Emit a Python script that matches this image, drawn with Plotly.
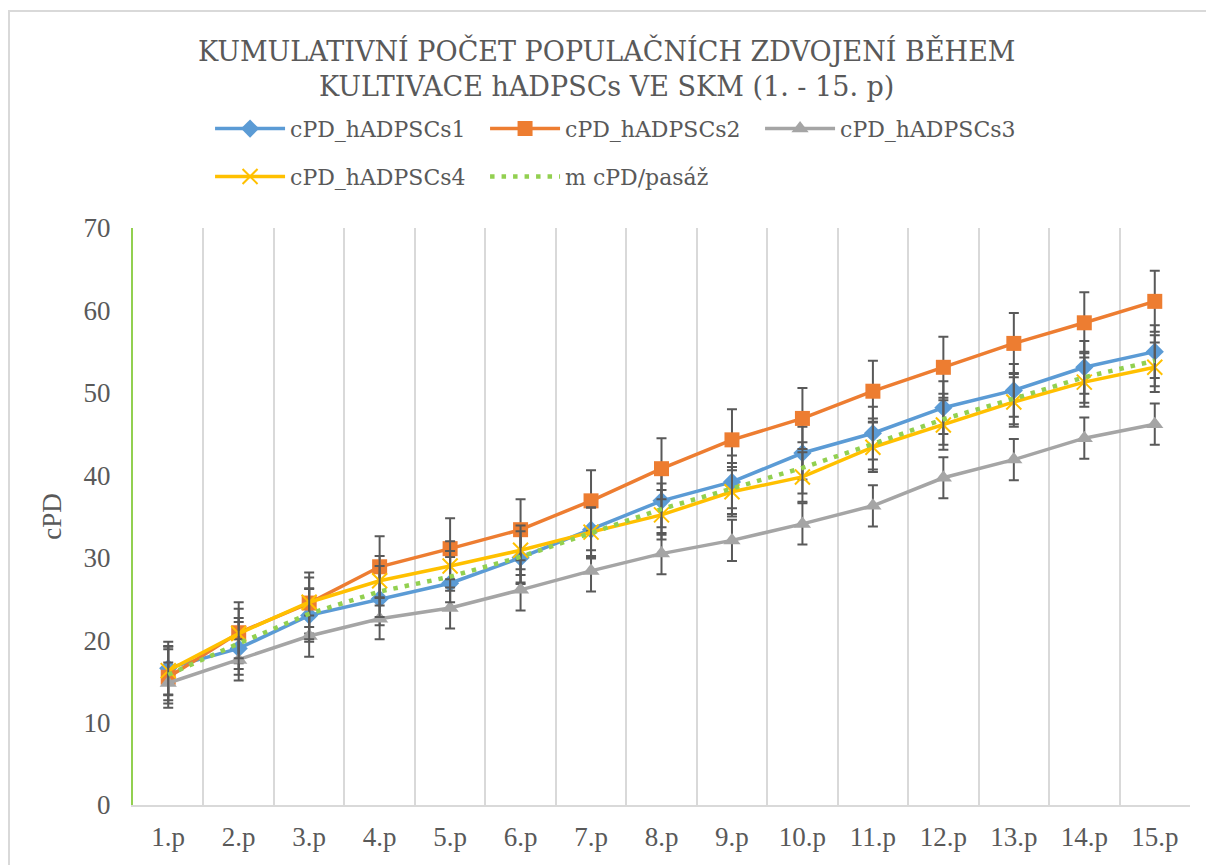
import plotly.graph_objects as go

# Passage labels (x axis categories)
passages = ["1.p", "2.p", "3.p", "4.p", "5.p", "6.p", "7.p", "8.p",
            "9.p", "10.p", "11.p", "12.p", "13.p", "14.p", "15.p"]

# Cumulative population doublings per cell line
cpd_1 = [16.6, 19.0, 23.0, 25.0, 26.9, 30.0, 33.4, 36.9, 39.2, 42.7, 45.1, 48.2, 50.3, 53.1, 55.0]
cpd_2 = [15.5, 20.9, 24.5, 28.9, 31.1, 33.4, 36.9, 40.8, 44.3, 46.9, 50.2, 53.1, 56.0, 58.5, 61.1]
cpd_3 = [14.8, 17.6, 20.5, 22.6, 23.9, 26.1, 28.4, 30.5, 32.1, 34.1, 36.3, 39.7, 41.9, 44.5, 46.2]
cpd_4 = [16.3, 20.8, 24.6, 27.2, 29.0, 30.9, 33.1, 35.2, 38.0, 39.8, 43.4, 46.1, 48.9, 51.3, 53.1]
cpd_mean = [15.8, 19.6, 23.2, 25.9, 27.7, 30.1, 33.0, 35.9, 38.4, 40.9, 43.8, 46.8, 49.3, 51.9, 53.9]

# Standard error of each series (constant error bar size)
err_1 = 3.2
err_2 = 3.7
err_3 = 2.5
err_4 = 3.0
err_mean = 3.1

names = ["cPD_hADPSCs1", "cPD_hADPSCs2", "cPD_hADPSCs3", "cPD_hADPSCs4", "m cPD/pasáž"]
title_lines = ["KUMULATIVNÍ POČET POPULAČNÍCH ZDVOJENÍ BĚHEM",
               "KULTIVACE hADPSCs VE SKM (1. - 15. p)"]
y_ticks = [0, 10, 20, 30, 40, 50, 60, 70]

FONT = "Times New Roman"
HEAD_FONT = "DejaVu Serif"
TEXT = "#595959"
GRID = "#d9d9d9"
GREEN = "#92d050"

x_pos = list(range(1, len(passages) + 1))


def err(v):
    return dict(type="constant", value=v, color="#595959", thickness=2, width=5)


fig = go.Figure()

fig.add_trace(go.Scatter(
    x=x_pos, y=cpd_1, name=names[0], mode="lines+markers",
    line=dict(color="#5b9bd5", width=3.5),
    marker=dict(symbol="diamond", size=14, color="#5b9bd5"),
    error_y=err(err_1), legend="legend"))
fig.add_trace(go.Scatter(
    x=x_pos, y=cpd_2, name=names[1], mode="lines+markers",
    line=dict(color="#ed7d31", width=3.5),
    marker=dict(symbol="square", size=15, color="#ed7d31"),
    error_y=err(err_2), legend="legend"))
fig.add_trace(go.Scatter(
    x=x_pos, y=cpd_3, name=names[2], mode="lines+markers",
    line=dict(color="#a5a5a5", width=3.5),
    marker=dict(symbol="triangle-up", size=15, color="#a5a5a5"),
    error_y=err(err_3), legend="legend"))
fig.add_trace(go.Scatter(
    x=x_pos, y=cpd_4, name=names[3], mode="lines+markers",
    line=dict(color="#ffc000", width=3.5),
    marker=dict(symbol="x-thin", size=15, color="#ffc000",
                line=dict(color="#ffc000", width=2)),
    error_y=err(err_4), legend="legend2"))
fig.add_trace(go.Scatter(
    x=x_pos, y=cpd_mean, name=names[4], mode="lines",
    line=dict(color=GREEN, width=4.5, dash="4.5px,7px"),
    error_y=err(err_mean), legend="legend2"))

legend_common = dict(
    orientation="h", xanchor="left", yanchor="middle",
    font=dict(family=HEAD_FONT, size=22, color=TEXT),
    itemwidth=70, entrywidth=190, bgcolor="rgba(0,0,0,0)",
    traceorder="normal",
)

# Two-line chart heading, drawn as centred text above the legend
title_annotations = [
    dict(text=line, x=0.4484, y=y, xref="paper", yref="paper",
         xanchor="center", yanchor="middle", showarrow=False,
         font=dict(family=HEAD_FONT, size=27, color=TEXT))
    for line, y in zip(title_lines, [1.3068, 1.2461])
]

fig.update_layout(
    width=1206, height=865,
    margin=dict(l=133, r=16, t=228, b=60),
    paper_bgcolor="white", plot_bgcolor="white",
    showlegend=True,
    annotations=title_annotations,
    legend=dict(x=0.0729, y=1.172, **legend_common),
    legend2=dict(x=0.0729, y=1.089, **legend_common),
    xaxis=dict(
        range=[0.5, 15.5], tickmode="array", tickvals=x_pos, ticktext=passages,
        showgrid=False, zeroline=False, automargin=False,
        showline=True, linecolor=GRID, linewidth=2,
        ticks="", ticklabelstandoff=7,
        tickfont=dict(family=FONT, size=27, color=TEXT),
        minor=dict(tick0=0.5, dtick=1, showgrid=True, gridcolor=GRID, gridwidth=2),
    ),
    yaxis=dict(
        range=[0, 70], tickmode="array", tickvals=y_ticks,
        showgrid=False, zeroline=False, automargin=False,
        showline=True, linecolor=GREEN, linewidth=2,
        ticks="", ticklabelstandoff=15,
        tickfont=dict(family=FONT, size=27, color=TEXT),
        title=dict(text="cPD", font=dict(family=FONT, size=27, color=TEXT), standoff=14),
    ),
    shapes=[dict(
        type="rect", xref="paper", yref="paper",
        x0=-0.1173, x1=1.03, y0=-0.3, y1=1.376,
        line=dict(color=GRID, width=2), fillcolor="rgba(0,0,0,0)", layer="below")],
)

fig.write_html("out.html")
